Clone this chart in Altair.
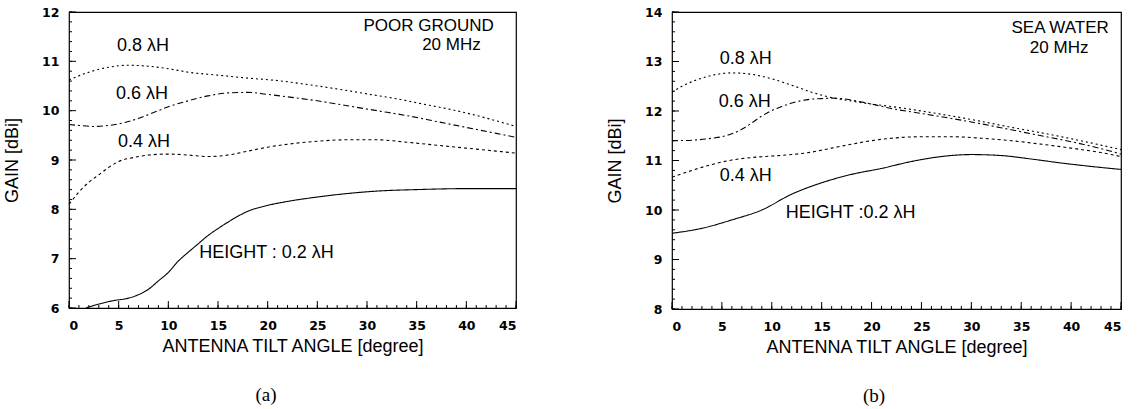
import altair as alt
import pandas as pd

# ---------------- data: (a) POOR GROUND, 20 MHz ----------------
pg_08_x = [0, 2, 4, 6, 8, 10, 12, 15, 18, 21, 24, 27, 30, 33, 36, 39, 42, 45]
pg_08_y = [10.62, 10.78, 10.88, 10.92, 10.90, 10.85, 10.78, 10.72, 10.66, 10.61, 10.53,
           10.44, 10.34, 10.24, 10.12, 10.00, 9.85, 9.68]
pg_06_x = [0, 1, 2.5, 4, 6, 8, 10, 12, 14, 16, 18, 20, 22, 25, 28, 31, 34, 37, 40, 43, 45]
pg_06_y = [9.72, 9.70, 9.68, 9.70, 9.78, 9.92, 10.08, 10.20, 10.30, 10.36, 10.37, 10.33,
           10.28, 10.20, 10.10, 10.00, 9.90, 9.78, 9.66, 9.54, 9.46]
pg_04_x = [0, 1, 2, 3, 4, 5, 6.5, 8, 10, 12, 14, 16, 18, 20, 22, 25, 28, 31, 34, 37, 40, 43, 45]
pg_04_y = [8.10, 8.35, 8.55, 8.70, 8.85, 8.97, 9.05, 9.10, 9.12, 9.10, 9.07, 9.10, 9.18,
           9.26, 9.32, 9.38, 9.41, 9.41, 9.36, 9.30, 9.24, 9.18, 9.14]
pg_02_x = [1.7, 3, 4.5, 6, 7, 8, 9, 10, 11, 12, 13, 14, 15, 16, 17, 18, 20, 22, 25, 28,
           31, 35, 40, 45]
pg_02_y = [6.00, 6.08, 6.15, 6.20, 6.27, 6.38, 6.55, 6.72, 6.95, 7.13, 7.30, 7.47, 7.61,
           7.74, 7.86, 7.96, 8.08, 8.16, 8.25, 8.32, 8.37, 8.40, 8.42, 8.42]

# ---------------- data: (b) SEA WATER, 20 MHz ----------------
sw_08_x = [0, 1, 2.5, 4, 6, 8, 10, 12, 14, 16, 18, 20, 22, 25, 28, 31, 34, 37, 40, 43, 45]
sw_08_y = [12.38, 12.50, 12.63, 12.72, 12.77, 12.74, 12.65, 12.52, 12.38, 12.27, 12.20,
           12.14, 12.09, 12.00, 11.90, 11.79, 11.67, 11.56, 11.44, 11.31, 11.22]
sw_06_x = [0, 2, 4, 5, 6, 7, 8, 9, 10, 11, 12, 13, 14, 15, 16, 17, 18, 20, 22, 25, 28,
           31, 34, 37, 40, 43, 45]
sw_06_y = [11.40, 11.41, 11.45, 11.48, 11.54, 11.63, 11.76, 11.90, 12.01, 12.09, 12.16,
           12.21, 12.24, 12.25, 12.26, 12.25, 12.22, 12.14, 12.05, 11.95, 11.85, 11.74,
           11.62, 11.50, 11.38, 11.24, 11.13]
sw_04_x = [0, 2, 4, 6, 8, 10, 12, 14, 16, 18, 20, 22, 25, 28, 31, 34, 37, 40, 43, 45]
sw_04_y = [10.66, 10.80, 10.92, 11.01, 11.06, 11.09, 11.12, 11.17, 11.25, 11.33, 11.40,
           11.45, 11.48, 11.48, 11.45, 11.40, 11.33, 11.25, 11.16, 11.08]
sw_02_x = [0, 3, 6, 9, 12, 15, 18, 21, 24, 27, 30, 33, 36, 39, 42, 45]
sw_02_y = [9.53, 9.63, 9.80, 10.00, 10.32, 10.55, 10.72, 10.84, 10.98, 11.08, 11.12,
           11.10, 11.03, 10.95, 10.88, 10.82]

series_names = ["0.8", "0.6", "0.4", "0.2"]
series_dash = [[2, 3], [6, 3, 2, 3], [3, 3], [1, 0]]

x_major = [0, 5, 10, 15, 20, 25, 30, 35, 40, 45]
x_minor = list(range(0, 46))
pg_y_major = [6, 7, 8, 9, 10, 11, 12]
sw_y_major = [8, 9, 10, 11, 12, 13, 14]

# curve annotations (label, x in degrees, y in dBi)
pg_center_text = ["0.8 λH", "0.6 λH", "0.4 λH"]
pg_center_x = [7.45, 7.35, 7.55]
pg_center_y = [11.31, 10.33, 9.36]
pg_left_text = ["HEIGHT : 0.2 λH"]
pg_left_x = [13.1]
pg_left_y = [7.12]
pg_box_text = ["POOR GROUND", "20 MHz"]
pg_box_x = [36.2, 38.5]
pg_box_y = [11.72, 11.33]

sw_center_text = ["0.8 λH", "0.6 λH", "0.4 λH"]
sw_center_x = [7.4, 7.3, 7.4]
sw_center_y = [13.05, 12.19, 10.68]
sw_left_text = ["HEIGHT :0.2 λH"]
sw_left_x = [11.4]
sw_left_y = [9.93]
sw_box_text = ["SEA WATER", "20 MHz"]
sw_box_x = [38.9, 38.8]
sw_box_y = [13.67, 13.27]

panel_tags = ["(a)", "(b)"]

FONT = "Liberation Sans"


def build_panel(curves, ydom, ymajor, ctext, cx, cy, ltext, lx, ly, btext, bx, by,
                tag, tagx, W, H):
    rows = []
    for name, xs, ys in curves:
        for a, b in zip(xs, ys):
            rows.append({"deg": a, "gain": b, "series": name})
    df = pd.DataFrame(rows)

    xscale = alt.Scale(domain=[0, 45], nice=False, zero=False)
    yscale = alt.Scale(domain=ydom, nice=False, zero=False)

    xaxis = alt.Axis(values=x_major, title="ANTENNA TILT ANGLE [degree]", ticks=False,
                     domain=False, grid=False, labelPadding=11, titlePadding=6,
                     format="d")
    yaxis = alt.Axis(values=ymajor, title="GAIN [dBi]", ticks=False, domain=False,
                     grid=False, labelPadding=10, titlePadding=20, format="d")

    X = alt.X("deg:Q", scale=xscale, axis=xaxis)
    Y = alt.Y("gain:Q", scale=yscale, axis=yaxis)

    lines = alt.Chart(df).mark_line(color="black", strokeWidth=1.1,
                                    interpolate="monotone").encode(
        x=X, y=Y,
        strokeDash=alt.StrokeDash("series:N",
                                  scale=alt.Scale(domain=series_names, range=series_dash),
                                  legend=None),
        detail="series:N",
    )

    xmaj = pd.DataFrame({"deg": x_major})
    xmin = pd.DataFrame({"deg": x_minor})
    ymin_vals = []
    for k in range(ymajor[0] * 5, ymajor[-1] * 5 + 1):
        ymin_vals.append(k / 5)
    ymaj = pd.DataFrame({"gain": ymajor})
    ymin = pd.DataFrame({"gain": ymin_vals})

    tick_xmaj = alt.Chart(xmaj).mark_rule(color="black", strokeWidth=1).encode(
        x=X, y=alt.value(H), y2=alt.value(H - 7))
    tick_xmin = alt.Chart(xmin).mark_rule(color="black", strokeWidth=1).encode(
        x=X, y=alt.value(H), y2=alt.value(H - 3))
    tick_ymaj = alt.Chart(ymaj).mark_rule(color="black", strokeWidth=1).encode(
        y=Y, x=alt.value(0), x2=alt.value(7))
    tick_ymin = alt.Chart(ymin).mark_rule(color="black", strokeWidth=1).encode(
        y=Y, x=alt.value(0), x2=alt.value(3))

    cdf = pd.DataFrame({"deg": cx, "gain": cy, "label": ctext})
    ldf = pd.DataFrame({"deg": lx, "gain": ly, "label": ltext})
    bdf = pd.DataFrame({"deg": bx, "gain": by, "label": btext})
    ctexts = alt.Chart(cdf).mark_text(font=FONT, fontSize=18, color="black",
                                      align="center", baseline="middle").encode(
        x=X, y=Y, text="label:N")
    ltexts = alt.Chart(ldf).mark_text(font=FONT, fontSize=18, color="black",
                                      align="left", baseline="middle").encode(
        x=X, y=Y, text="label:N")
    btexts = alt.Chart(bdf).mark_text(font=FONT, fontSize=17, color="black",
                                      align="center", baseline="middle").encode(
        x=X, y=Y, text="label:N")

    tdf = pd.DataFrame({"label": [tag]})
    tagtext = alt.Chart(tdf).mark_text(font="Liberation Serif", fontSize=19,
                                       color="black", align="center",
                                       baseline="middle").encode(
        x=alt.value(tagx), y=alt.value(H + 87), text="label:N")

    return alt.layer(lines, tick_xmaj, tick_xmin, tick_ymaj, tick_ymin, ctexts, ltexts,
                     btexts, tagtext).properties(width=W, height=H)


left = build_panel(
    [("0.8", pg_08_x, pg_08_y), ("0.6", pg_06_x, pg_06_y),
     ("0.4", pg_04_x, pg_04_y), ("0.2", pg_02_x, pg_02_y)],
    [6, 12], pg_y_major, pg_center_text, pg_center_x, pg_center_y,
    pg_left_text, pg_left_x, pg_left_y, pg_box_text, pg_box_x, pg_box_y,
    panel_tags[0], 197, 447, 296)

right = build_panel(
    [("0.8", sw_08_x, sw_08_y), ("0.6", sw_06_x, sw_06_y),
     ("0.4", sw_04_x, sw_04_y), ("0.2", sw_02_x, sw_02_y)],
    [8, 14], sw_y_major, sw_center_text, sw_center_x, sw_center_y,
    sw_left_text, sw_left_x, sw_left_y, sw_box_text, sw_box_x, sw_box_y,
    panel_tags[1], 202, 449, 297)

chart = alt.hconcat(left, right, spacing=87).properties(
    padding={"left": 3, "top": 5, "right": 2, "bottom": 0},
    background="white"
).configure_view(
    stroke="black", strokeWidth=1.2
).configure_axis(
    labelFont="DejaVu Sans", labelFontWeight="bold", labelFontSize=12.5,
    labelColor="black", titleFont=FONT, titleFontSize=18, titleFontWeight="normal",
    titleColor="black"
)

chart.save("out.html", embed_options={"renderer": "svg", "actions": False})
